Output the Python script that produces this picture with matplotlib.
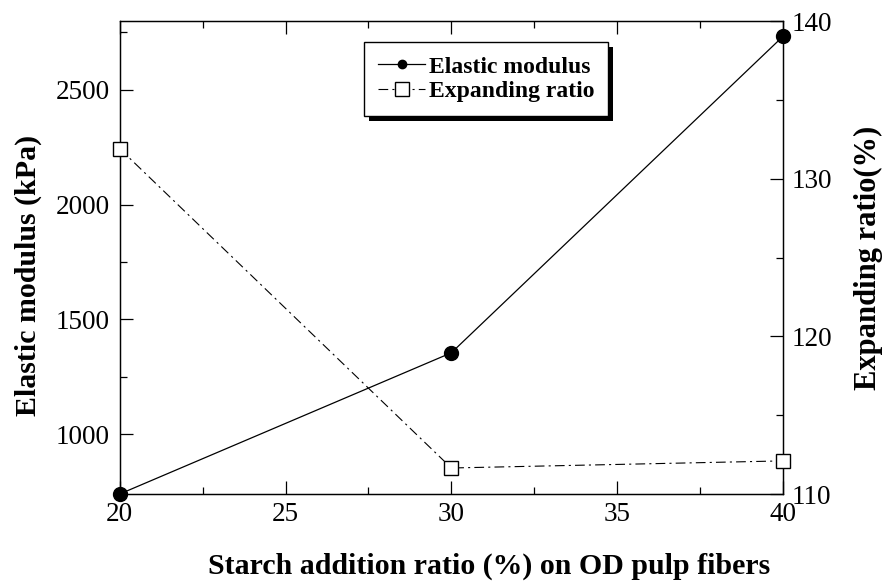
import matplotlib
matplotlib.use("Agg")
import matplotlib.pyplot as plt
from matplotlib.ticker import MultipleLocator
from matplotlib.patches import Rectangle

# data
starch = [20, 30, 40]
elastic = [740, 1355, 2733]
expanding = [131.9, 111.65, 112.1]

plt.rcParams['font.family'] = ['Liberation Serif', 'DejaVu Serif']
plt.rcParams['lines.scale_dashes'] = False

fig = plt.figure(figsize=(8.85, 5.82), dpi=100)
ax = fig.add_axes([0.1353, 0.1512, 0.7494, 0.8127])
ax2 = ax.twinx()

l1, = ax.plot(starch, elastic, color='black', lw=0.9, marker='o', ms=10,
              clip_on=False, zorder=5, label='Elastic modulus')
l2, = ax2.plot(starch, expanding, color='black', lw=0.8,
               linestyle=(0, (7, 3, 1.5, 3)), marker='s', ms=10,
               mfc='white', mec='black', mew=1, clip_on=False, zorder=5,
               label='Expanding ratio')

ax.set_xlim(20, 40)
ax.set_ylim(740, 2800)
ax2.set_ylim(110, 140)

ax.xaxis.set_major_locator(MultipleLocator(5))
ax.xaxis.set_minor_locator(MultipleLocator(2.5))
ax.yaxis.set_major_locator(MultipleLocator(500))
ax.yaxis.set_minor_locator(MultipleLocator(250))
ax2.yaxis.set_major_locator(MultipleLocator(10))
ax2.yaxis.set_minor_locator(MultipleLocator(5))

for a in (ax, ax2):
    for s in a.spines.values():
        s.set_linewidth(0.9)
ax.tick_params(which='both', direction='in', top=True, right=False,
               width=0.9, labelsize=19.5)
ax.tick_params(which='major', length=9.5)
ax.tick_params(which='minor', length=5)
ax.tick_params(axis='y', pad=7)
ax.tick_params(axis='x', pad=5.5)
ax2.tick_params(which='both', direction='in', width=0.9, labelsize=19.5, pad=6)
ax2.tick_params(which='major', length=9.5)
ax2.tick_params(which='minor', length=5)

ax.set_xlabel('Starch addition ratio (%) on OD pulp fibers', fontsize=21.5,
              fontweight='bold')
ax.xaxis.set_label_coords(0.557, -0.125)
ax.set_ylabel('Elastic modulus (kPa)', fontsize=21.5, fontweight='bold')
ax.yaxis.set_label_coords(-0.117, 0.463)
ax2.set_ylabel('Expanding ratio(%)', fontsize=22, fontweight='bold',
               labelpad=16)

leg = ax2.legend(handles=[l1, l2], loc='upper left',
                 bbox_to_anchor=(0.368, 0.9556),
                 prop={'weight': 'bold', 'size': 17},
                 frameon=True, fancybox=False, edgecolor='black',
                 framealpha=1, handlelength=2.0, handletextpad=0.15,
                 labelspacing=0.12, borderpad=0.6, borderaxespad=0)
leg.get_frame().set_linewidth(1.0)
leg.set_zorder(6)
for h, size in zip(leg.legend_handles, [6, 10]):
    h.set_markersize(size)

# hard black drop shadow behind the legend box
fig.canvas.draw()
bb = leg.get_window_extent()
ax2.add_patch(Rectangle((bb.x0 + 5, bb.y0 - 5), bb.width, bb.height,
                        transform=None, facecolor='black', edgecolor='none',
                        zorder=5.5, clip_on=False))

fig.savefig('out.png', dpi=100)
